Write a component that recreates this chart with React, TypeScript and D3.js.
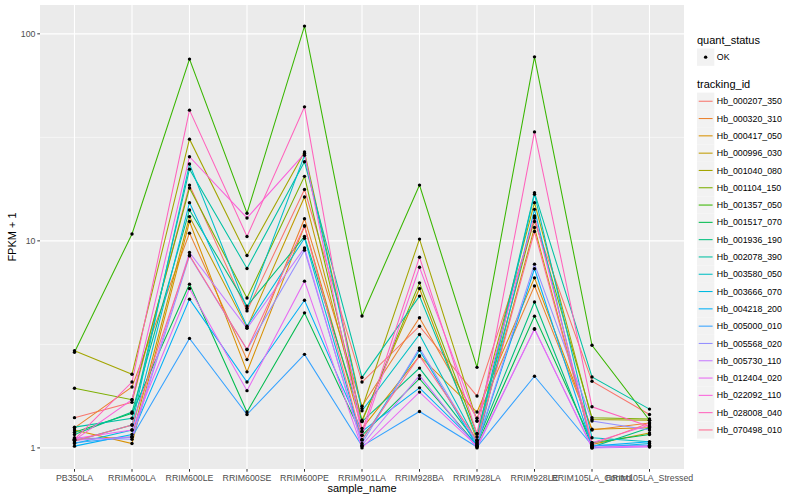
import React, { Component } from "react";
import * as d3 from "d3";

const samples = [
  "PB350LA",
  "RRIM600LA",
  "RRIM600LE",
  "RRIM600SE",
  "RRIM600PE",
  "RRIM901LA",
  "RRIM928BA",
  "RRIM928LA",
  "RRIM928LE",
  "RRIM105LA_Control",
  "RRIM105LA_Stressed",
];

const trackingIds = [
  "Hb_000207_350",
  "Hb_000320_310",
  "Hb_000417_050",
  "Hb_000996_030",
  "Hb_001040_080",
  "Hb_001104_150",
  "Hb_001357_050",
  "Hb_001517_070",
  "Hb_001936_190",
  "Hb_002078_390",
  "Hb_003580_050",
  "Hb_003666_070",
  "Hb_004218_200",
  "Hb_005000_010",
  "Hb_005568_020",
  "Hb_005730_110",
  "Hb_012404_020",
  "Hb_022092_110",
  "Hb_028008_040",
  "Hb_070498_010",
];

// FPKM + 1, one array per tracking_id, in sample order
const hb000207 = [1.4, 1.66, 18.6, 4.59, 17.7, 2.08, 3.87, 1.78, 12.4, 2.1, 1.45];
const hb000320 = [1.25, 1.97, 10.9, 2.67, 12.8, 1.59, 4.25, 1.39, 6.06, 1.22, 1.32];
const hb000417 = [1.22, 1.05, 12.4, 2.33, 11.8, 1.24, 2.78, 1.49, 6.63, 1.23, 1.25];
const hb000996 = [1.1, 1.13, 13.1, 3.81, 16.3, 1.36, 5.89, 1.09, 11.6, 1.04, 1.18];
const hb001040 = [2.95, 2.27, 31, 8.5, 26.9, 1.55, 10.2, 1.35, 15.3, 1.37, 1.36];
const hb001104 = [1.94, 1.71, 18.0, 5.3, 20.5, 1.34, 6.27, 1.17, 12.9, 1.4, 1.38];
const hb001357 = [2.9, 10.8, 75.5, 13.6, 109, 4.34, 18.6, 2.45, 77.4, 3.13, 1.36];
const hb001517 = [1.19, 1.47, 6.18, 1.49, 4.49, 1.15, 2.16, 1.03, 4.33, 1.06, 1.16];
const hb001936 = [1.16, 1.49, 14.1, 4.84, 10.5, 1.34, 2.43, 1.06, 5.07, 1.01, 1.25];
const hb002078 = [1.26, 1.39, 22.2, 7.36, 24.1, 2.19, 5.41, 1.13, 17.1, 2.2, 1.54];
const hb003580 = [1.08, 1.29, 23.5, 4.71, 25.9, 1.51, 3.53, 1.07, 16.8, 1.12, 1.07];
const hb003666 = [1.05, 1.22, 15.3, 3.87, 10.3, 1.09, 2.96, 1.02, 14.2, 1.0, 1.05];
const hb004218 = [1.02, 1.16, 5.23, 2.08, 5.17, 1.2, 1.95, 1.04, 7.33, 1.02, 1.07];
const hb005000 = [1.06, 1.13, 3.38, 1.45, 2.83, 1.02, 1.5, 1.01, 2.22, 1.03, 1.03];
const hb005568 = [1.12, 1.1, 8.46, 2.99, 9.02, 1.05, 3.04, 1.05, 7.72, 1.35, 1.22];
const hb005730 = [1.09, 1.13, 8.79, 3.78, 9.25, 1.03, 2.24, 1.0, 3.77, 1.0, 1.01];
const hb012404 = [1.11, 1.22, 5.89, 1.89, 6.39, 1.0, 1.86, 1.02, 3.74, 1.01, 1.02];
const hb022092 = [1.09, 1.71, 25.5, 12.9, 26.4, 1.15, 7.46, 1.35, 13.2, 1.06, 1.29];
const hb028008 = [1.1, 2.08, 42.8, 10.5, 44.4, 1.2, 8.34, 1.17, 33.6, 1.58, 1.27];
const hb070498 = [1.08, 1.29, 8.53, 2.99, 11.8, 1.1, 2.78, 1.09, 11.1, 1.04, 1.32];

const seriesValues = [
  hb000207, hb000320, hb000417, hb000996, hb001040, hb001104, hb001357,
  hb001517, hb001936, hb002078, hb003580, hb003666, hb004218, hb005000,
  hb005568, hb005730, hb012404, hb022092, hb028008, hb070498,
];

// ggplot2 default hue palette for 20 levels
const palette = [
  "#F8766D", "#EA8331", "#D89000", "#C09B00", "#A3A500", "#7CAE00", "#39B600",
  "#00BB4E", "#00BF7D", "#00C1A3", "#00BFC4", "#00BAE0", "#00B0F6", "#35A2FF",
  "#9590FF", "#C77CFF", "#E76BF3", "#FA62DB", "#FF62BC", "#FF6C91",
];

const yTicks = [1, 10, 100];

export default class App extends Component {
  chartRef: any;
  componentDidMount() {
    const width = 800;
    const height = 500;
    const panel = { left: 40, right: 684, top: 5, bottom: 469 };
    const font = "'Liberation Sans', Arial, Helvetica, sans-serif";

    const chart = d3
      .select(this.chartRef)
      .attr("width", width)
      .attr("height", height)
      .attr("viewBox", `0 0 ${width} ${height}`)
      .style("font-family", font);
    chart.selectAll("*").remove();

    chart.append("rect").attr("width", width).attr("height", height).attr("fill", "#fff");

    // 比例尺
    const xScale = d3
      .scalePoint()
      .domain(samples)
      .range([panel.left, panel.right])
      .padding(0.6);

    const all = seriesValues.flat();
    const lo = Math.log10(d3.min(all) as number);
    const hi = Math.log10(d3.max(all) as number);
    const pad = (hi - lo) * 0.05;
    const yScale = d3
      .scaleLog()
      .domain([Math.pow(10, lo - pad), Math.pow(10, hi + pad)])
      .range([panel.bottom, panel.top]);

    // 面板背景与网格
    chart
      .append("rect")
      .attr("x", panel.left)
      .attr("y", panel.top)
      .attr("width", panel.right - panel.left)
      .attr("height", panel.bottom - panel.top)
      .attr("fill", "#EBEBEB");

    const grid = chart.append("g").attr("stroke", "#fff").attr("fill", "none");
    const [dLo, dHi] = yScale.domain().map(Math.log10);
    const minor: number[] = [];
    for (let e = Math.floor(dLo) - 1; e <= Math.ceil(dHi); e++) {
      const m = e + 0.5;
      if (m > dLo && m < dHi) minor.push(Math.pow(10, m));
    }
    grid
      .selectAll(".minor")
      .data(minor)
      .enter()
      .append("line")
      .attr("x1", panel.left)
      .attr("x2", panel.right)
      .attr("y1", (d) => yScale(d))
      .attr("y2", (d) => yScale(d))
      .attr("stroke-width", 0.55);
    grid
      .selectAll(".major")
      .data(yTicks)
      .enter()
      .append("line")
      .attr("x1", panel.left)
      .attr("x2", panel.right)
      .attr("y1", (d) => yScale(d))
      .attr("y2", (d) => yScale(d))
      .attr("stroke-width", 1.1);
    grid
      .selectAll(".vmajor")
      .data(samples)
      .enter()
      .append("line")
      .attr("x1", (d) => xScale(d) as number)
      .attr("x2", (d) => xScale(d) as number)
      .attr("y1", panel.top)
      .attr("y2", panel.bottom)
      .attr("stroke-width", 1.1);

    // 折线
    const line: any = d3
      .line()
      .x((d: any, i: number) => xScale(samples[i]) as number)
      .y((d: any) => yScale(d));

    seriesValues.forEach((vals, index) => {
      chart
        .append("path")
        .attr("fill", "none")
        .attr("d", line(vals))
        .attr("stroke", palette[index])
        .attr("stroke-width", 1.05);
    });

    // 节点
    seriesValues.forEach((vals) => {
      chart
        .append("g")
        .selectAll("circle")
        .data(vals)
        .enter()
        .append("circle")
        .attr("cx", (d, i) => xScale(samples[i]) as number)
        .attr("cy", (d) => yScale(d))
        .attr("r", 1.7)
        .attr("fill", "#000");
    });

    // y 轴
    const yAxis = chart.append("g");
    yTicks.forEach((t) => {
      yAxis
        .append("line")
        .attr("x1", panel.left - 2.7)
        .attr("x2", panel.left)
        .attr("y1", yScale(t))
        .attr("y2", yScale(t))
        .attr("stroke", "#333");
      yAxis
        .append("text")
        .attr("x", panel.left - 4.5)
        .attr("y", yScale(t))
        .attr("dy", "0.35em")
        .attr("text-anchor", "end")
        .attr("font-size", "8.8px")
        .attr("fill", "#4D4D4D")
        .text(t);
    });

    // x 轴
    const xAxis = chart.append("g");
    samples.forEach((s) => {
      const x = xScale(s) as number;
      xAxis
        .append("line")
        .attr("x1", x)
        .attr("x2", x)
        .attr("y1", panel.bottom)
        .attr("y2", panel.bottom + 2.7)
        .attr("stroke", "#333");
      xAxis
        .append("text")
        .attr("x", x)
        .attr("y", 481)
        .attr("text-anchor", "middle")
        .attr("font-size", "8.8px")
        .attr("fill", "#4D4D4D")
        .text(s);
    });

    chart
      .append("text")
      .attr("x", (panel.left + panel.right) / 2)
      .attr("y", 492)
      .attr("text-anchor", "middle")
      .attr("font-size", "11px")
      .attr("fill", "#000")
      .text("sample_name");

    chart
      .append("text")
      .attr("transform", `translate(16,${(panel.top + panel.bottom) / 2}) rotate(-90)`)
      .attr("text-anchor", "middle")
      .attr("font-size", "11px")
      .attr("fill", "#000")
      .text("FPKM + 1");

    // 图例
    const legend = chart.append("g");
    const keyX = 697;
    const keySize = 17.3;

    legend
      .append("text")
      .attr("x", keyX)
      .attr("y", 44)
      .attr("font-size", "11px")
      .attr("fill", "#000")
      .text("quant_status");
    legend
      .append("rect")
      .attr("x", keyX)
      .attr("y", 48.5)
      .attr("width", keySize)
      .attr("height", keySize)
      .attr("fill", "#F2F2F2");
    legend
      .append("circle")
      .attr("cx", keyX + keySize / 2)
      .attr("cy", 48.5 + keySize / 2)
      .attr("r", 1.7)
      .attr("fill", "#000");
    legend
      .append("text")
      .attr("x", keyX + keySize + 2.5)
      .attr("y", 48.5 + keySize / 2)
      .attr("dy", "0.35em")
      .attr("font-size", "8.8px")
      .attr("fill", "#000")
      .text("OK");

    legend
      .append("text")
      .attr("x", keyX)
      .attr("y", 88)
      .attr("font-size", "11px")
      .attr("fill", "#000")
      .text("tracking_id");

    const keyTop = 92.6;
    trackingIds.forEach((id, i) => {
      const y = keyTop + i * keySize;
      legend
        .append("rect")
        .attr("x", keyX)
        .attr("y", y)
        .attr("width", keySize)
        .attr("height", keySize)
        .attr("fill", "#F2F2F2");
      legend
        .append("line")
        .attr("x1", keyX + 1.7)
        .attr("x2", keyX + keySize - 1.7)
        .attr("y1", y + keySize / 2)
        .attr("y2", y + keySize / 2)
        .attr("stroke", palette[i])
        .attr("stroke-width", 1.05);
      legend
        .append("text")
        .attr("x", keyX + keySize + 2.5)
        .attr("y", y + keySize / 2)
        .attr("dy", "0.35em")
        .attr("font-size", "8.8px")
        .attr("fill", "#000")
        .text(id);
    });
  }
  render() {
    return (
      <div style={{ position: "absolute", left: 0, top: 0, width: 800, height: 500 }}>
        <svg ref={(r) => (this.chartRef = r)} style={{ display: "block" }}></svg>
      </div>
    );
  }
}
